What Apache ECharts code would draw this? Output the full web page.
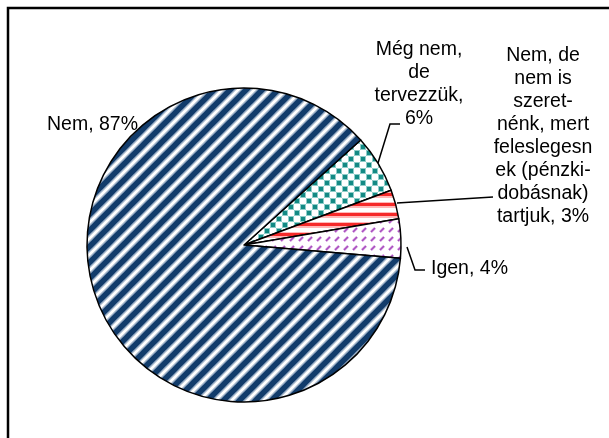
<!DOCTYPE html>
<html lang="hu">
<head>
<meta charset="UTF-8">
<title>Pie</title>
<script src="https://cdn.jsdelivr.net/npm/echarts@6/dist/echarts.min.js"></script>
<style>
    html, body { margin: 0; padding: 0; background: #fff; }
    #main { width: 609px; height: 438px; }
</style>
</head>
<body>
<div id="main"></div>
<script>
    // adatok
    var names = ['Még nem, de tervezzük', 'Nem, de nem is szeretnénk, mert feleslegesnek (pénzkidobásnak) tartjuk', 'Igen', 'Nem'];
    var labelTexts = ['Még nem,\nde\ntervezzük,\n', 'Nem, de\nnem is\nszeret-\nnénk, mert\nfeleslegesn\nek (pénzki-\ndobásnak)\ntartjuk, ', 'Igen, ', 'Nem, '];
    var values = [6, 3, 4, 87];

    // label placement (pixel layout)
    var labelPos = [
        {x: 419, y: 84, align: 'center', line: [[378, 163], [390, 124], [400, 124]]},
        {x: 543, y: 136, align: 'center', line: [[397, 203], [445, 200], [493, 197]]},
        {x: 431, y: 269, align: 'left', line: [[407, 247], [415, 270], [425, 270]]},
        {x: 138, y: 125, align: 'right', line: null}
    ];

    function makeCanvas(w, h) {
        var c = document.createElement('canvas');
        c.width = w;
        c.height = h;
        return c;
    }

    // navy diagonal stripes
    function navyStripes() {
        var s = 16;
        var c = makeCanvas(s, s);
        var ctx = c.getContext('2d');
        ctx.fillStyle = '#fff';
        ctx.fillRect(0, 0, s, s);
        ctx.lineCap = 'square';
        for (var k = -1; k <= 1; k++) {
            ctx.strokeStyle = '#9fb2c8';
            ctx.lineWidth = 8.5;
            ctx.beginPath();
            ctx.moveTo(k * s - 2, s + 2);
            ctx.lineTo(k * s + s + 2, -2);
            ctx.stroke();
            ctx.strokeStyle = '#123c6b';
            ctx.lineWidth = 5.5;
            ctx.beginPath();
            ctx.moveTo(k * s - 2, s + 2);
            ctx.lineTo(k * s + s + 2, -2);
            ctx.stroke();
        }
        return c;
    }

    // teal dots
    function tealDots() {
        var s = 12;
        var c = makeCanvas(s, s);
        var ctx = c.getContext('2d');
        ctx.fillStyle = '#fff';
        ctx.fillRect(0, 0, s, s);
        ctx.fillStyle = '#8fcdc9';
        ctx.fillRect(0, 0, 6, 6);
        ctx.fillRect(6, 6, 6, 6);
        ctx.fillStyle = '#138a84';
        ctx.fillRect(1, 1, 4, 4);
        ctx.fillRect(7, 7, 4, 4);
        return c;
    }

    // red horizontal stripes
    function redStripes() {
        var s = 10;
        var c = makeCanvas(s, s);
        var ctx = c.getContext('2d');
        ctx.fillStyle = '#fff';
        ctx.fillRect(0, 0, s, s);
        ctx.fillStyle = '#ffb8b8';
        ctx.fillRect(0, 2, s, 6);
        ctx.fillStyle = '#f52a2a';
        ctx.fillRect(0, 3, s, 3);
        return c;
    }

    // purple dashed diagonals
    function purpleDash() {
        var s = 9;
        var c = makeCanvas(s, s);
        var ctx = c.getContext('2d');
        ctx.fillStyle = '#fff';
        ctx.fillRect(0, 0, s, s);
        ctx.strokeStyle = '#dcb0e4';
        ctx.lineWidth = 2.6;
        ctx.beginPath();
        ctx.moveTo(2, 7);
        ctx.lineTo(6, 3);
        ctx.stroke();
        ctx.strokeStyle = '#a94ec0';
        ctx.lineWidth = 1.6;
        ctx.beginPath();
        ctx.moveTo(2, 7);
        ctx.lineTo(6, 3);
        ctx.stroke();
        return c;
    }

    var patterns = [tealDots(), redStripes(), purpleDash(), navyStripes()];

    var pieData = [];
    for (var i = 0; i < values.length; i++) {
        pieData.push({
            name: names[i],
            value: values[i],
            itemStyle: {color: {image: patterns[i], repeat: 'repeat'}},
            labelLine: {show: labelPos[i].line !== null}
        });
    }

    var myChart = echarts.init(document.getElementById('main'));

    var option = {
        animation: false,
        backgroundColor: '#fff',
        graphic: [{
            type: 'rect',
            z: -1,
            shape: {x: 8, y: 8, width: 700, height: 600},
            style: {fill: null, stroke: '#000', lineWidth: 2.5}
        }],
        series: [{
            type: 'pie',
            center: [244, 245],
            radius: 157,
            startAngle: 42,
            clockwise: true,
            avoidLabelOverlap: false,
            itemStyle: {borderColor: '#000', borderWidth: 1.5},
            label: {
                show: true,
                position: 'outside',
                fontFamily: 'Liberation Sans, Arial, sans-serif',
                fontSize: 19.5,
                lineHeight: 23,
                color: '#000',
                formatter: function (p) {
                    return labelTexts[p.dataIndex] + Math.round(p.percent) + '%';
                }
            },
            labelLine: {lineStyle: {color: '#000', width: 1.5}},
            labelLayout: function (p) {
                var lp = labelPos[p.dataIndex];
                var res = {x: lp.x, y: lp.y, align: lp.align, verticalAlign: 'middle'};
                if (lp.line) res.labelLinePoints = lp.line;
                return res;
            },
            emphasis: {disabled: true},
            data: pieData
        }]
    };

    myChart.setOption(option);
</script>
</body>
</html>
